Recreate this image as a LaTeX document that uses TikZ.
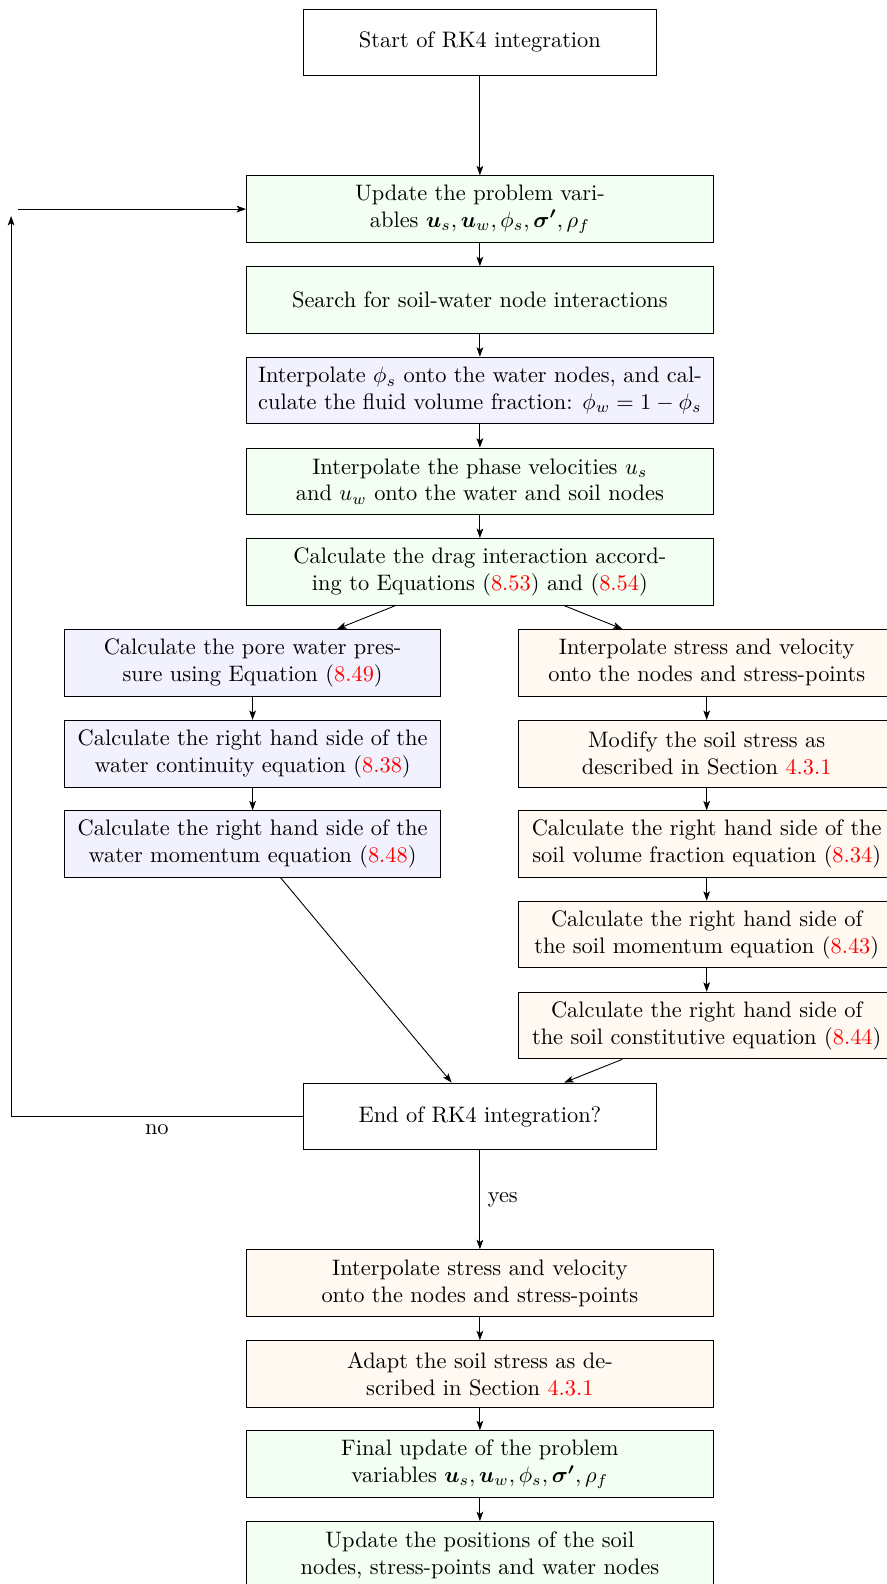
\documentclass[tikz,border=0pt]{standalone}
\usepackage{bm}
\usetikzlibrary{arrows.meta}

\begin{document}
\begin{tikzpicture}[
  x=0.44643pt, y=-0.44643pt,
  box/.style={draw, rectangle, align=center, minimum height=29.8pt, inner sep=2pt},
  mainbox/.style={box, minimum width=208.4pt},
  endbox/.style={box, minimum width=157.9pt, fill=white},
  colbox/.style={box, minimum width=167.9pt},
  gfill/.style={fill=green!5},
  bfill/.style={fill=blue!5},
  ofill/.style={fill=orange!5},
  arrow/.style={-{Stealth[length=4.2pt,width=3pt,inset=1pt]}}
]
\useasboundingbox (0,0) rectangle (886,1584);

% main column
\node[endbox] (start) at (479.9,42.4) {Start of RK4 integration};
\node[mainbox,gfill] (update) at (479.9,209.1) {Update the problem vari-\\ables $\bm{u}_s, \bm{u}_w, \phi_s, \bm{\sigma'}, \rho_f$};
\node[mainbox,gfill] (search) at (479.9,300.0) {Search for soil-water node interactions};
\node[mainbox,bfill] (phi) at (479.9,390.5) {Interpolate $\phi_s$ onto the water nodes, and cal-\\culate the fluid volume fraction: $\phi_w = 1 - \phi_s$};
\node[mainbox,gfill] (vel) at (479.9,481.4) {Interpolate the phase velocities $u_s$\\and $u_w$ onto the water and soil nodes};
\node[mainbox,gfill] (drag) at (479.9,571.8) {Calculate the drag interaction accord-\\ing to Equations (\textcolor{red}{8.53}) and (\textcolor{red}{8.54})};

% water branch
\node[colbox,bfill] (l1) at (252.6,662.8) {Calculate the pore water pres-\\sure using Equation (\textcolor{red}{8.49})};
\node[colbox,bfill] (l2) at (252.6,753.7) {Calculate the right hand side of the\\water continuity equation (\textcolor{red}{8.38})};
\node[colbox,bfill] (l3) at (252.6,844.1) {Calculate the right hand side of the\\water momentum equation (\textcolor{red}{8.48})};

% soil branch
\node[colbox,ofill] (r1) at (706.7,662.8) {Interpolate stress and velocity\\onto the nodes and stress-points};
\node[colbox,ofill] (r2) at (706.7,753.7) {Modify the soil stress as\\described in Section \textcolor{red}{4.3.1}};
\node[colbox,ofill] (r3) at (706.7,844.1) {Calculate the right hand side of the\\soil volume fraction equation (\textcolor{red}{8.34})};
\node[colbox,ofill] (r4) at (706.7,934.5) {Calculate the right hand side of\\the soil momentum equation (\textcolor{red}{8.43})};
\node[colbox,ofill] (r5) at (706.7,1025.5) {Calculate the right hand side of\\the soil constitutive equation (\textcolor{red}{8.44})};

% end of step and final updates
\node[endbox] (end) at (479.9,1116.4) {End of RK4 integration?};
\node[mainbox,ofill] (b1) at (479.9,1283.0) {Interpolate stress and velocity\\onto the nodes and stress-points};
\node[mainbox,ofill] (b2) at (479.9,1374.0) {Adapt the soil stress as de-\\scribed in Section \textcolor{red}{4.3.1}};
\node[mainbox,gfill] (b3) at (479.9,1464.0) {Final update of the problem\\variables $\bm{u}_s, \bm{u}_w, \phi_s, \bm{\sigma'}, \rho_f$};
\node[mainbox,gfill] (b4) at (479.9,1554.9) {Update the positions of the soil\\nodes, stress-points and water nodes};

% loop-back coordinates
\coordinate (looptop) at (11.1,216);
\coordinate (loopin) at (18.2,209.1);

% connectors
\draw[arrow] (start) -- (update);
\draw[arrow] (update) -- (search);
\draw[arrow] (search) -- (phi);
\draw[arrow] (phi) -- (vel);
\draw[arrow] (vel) -- (drag);
\draw[arrow] (drag) -- (l1);
\draw[arrow] (drag) -- (r1);
\draw[arrow] (l1) -- (l2);
\draw[arrow] (l2) -- (l3);
\draw[arrow] (r1) -- (r2);
\draw[arrow] (r2) -- (r3);
\draw[arrow] (r3) -- (r4);
\draw[arrow] (r4) -- (r5);
\draw[arrow] (l3) -- (end);
\draw[arrow] (r5) -- (end);
\draw[arrow] (end.west) -| node[pos=0.25,below] {no} (looptop);
\draw[arrow] (loopin) -- (update.west);
\draw[arrow] (end) -- node[right] {yes} (b1);
\draw[arrow] (b1) -- (b2);
\draw[arrow] (b2) -- (b3);
\draw[arrow] (b3) -- (b4);
\end{tikzpicture}
\end{document}
